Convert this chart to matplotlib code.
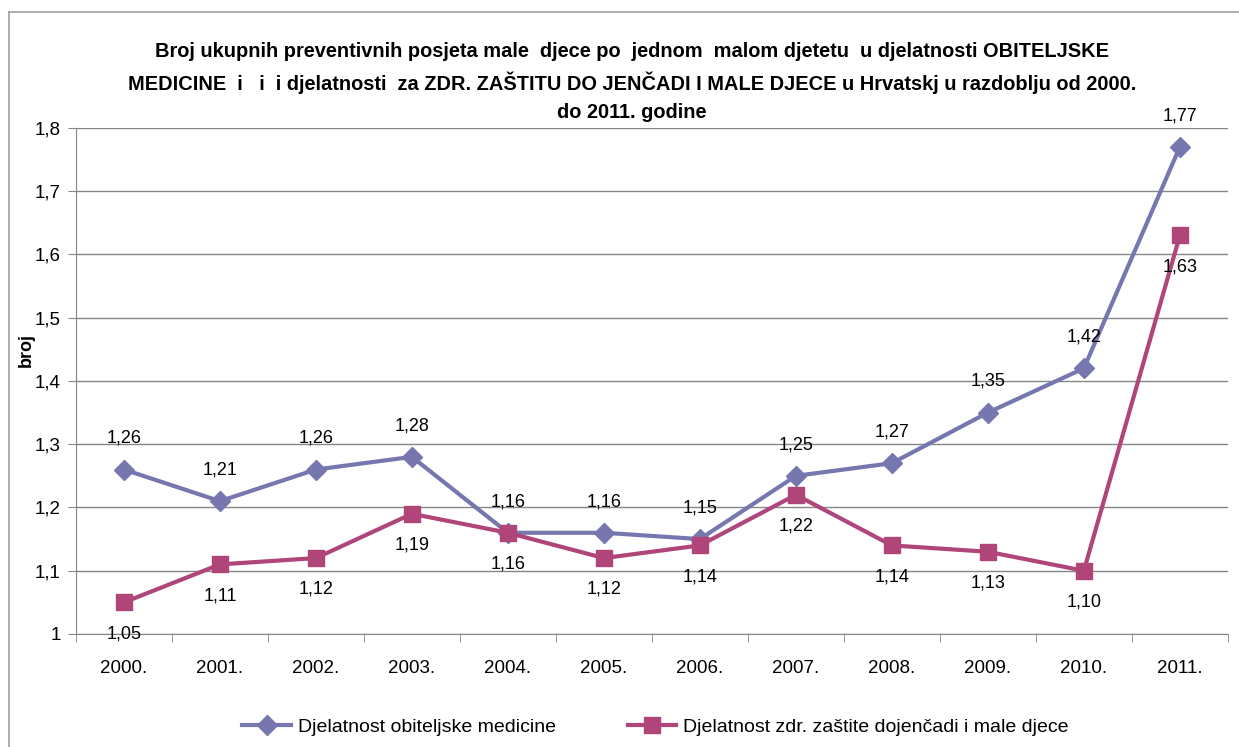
import matplotlib
matplotlib.use("Agg")
import matplotlib.pyplot as plt
from matplotlib.lines import Line2D
from matplotlib.ticker import FuncFormatter, FixedLocator

years = ["2000.", "2001.", "2002.", "2003.", "2004.", "2005.",
         "2006.", "2007.", "2008.", "2009.", "2010.", "2011."]
obiteljska = [1.26, 1.21, 1.26, 1.28, 1.16, 1.16, 1.15, 1.25, 1.27, 1.35, 1.42, 1.77]
djecja = [1.05, 1.11, 1.12, 1.19, 1.16, 1.12, 1.14, 1.22, 1.14, 1.13, 1.10, 1.63]
yticks = [1.0, 1.1, 1.2, 1.3, 1.4, 1.5, 1.6, 1.7, 1.8]

title = ("Broj ukupnih preventivnih posjeta male  djece po  jednom  malom djetetu  u djelatnosti OBITELJSKE\n"
         "MEDICINE  i   i  i djelatnosti  za ZDR. ZAŠTITU DO JENČADI I MALE DJECE u Hrvatskj u razdoblju od 2000.\n"
         "do 2011. godine")

BLUE = "#7777B0"
PINK = "#B0457A"
GRID = "#868686"

plt.rcParams["font.family"] = ["Liberation Sans", "DejaVu Sans"]

fig = plt.figure(figsize=(12.39, 7.47), dpi=100)
ax = fig.add_axes([0.0613, 0.1513, 0.9297, 0.6774])

x = list(range(len(years)))
ax.plot(x, obiteljska, color=BLUE, lw=3, marker="D", ms=10, label="Djelatnost obiteljske medicine")
ax.plot(x, djecja, color=PINK, lw=3, marker="s", ms=11.5, label="Djelatnost zdr. zaštite dojenčadi i male djece")

def fmt2(v):
    return f"{v:.2f}".replace(".", ",")

# data labels: first series above the points, second below
for xi, v in zip(x, obiteljska):
    ax.annotate(fmt2(v), (xi, v), xytext=(0, 22.5), textcoords="offset points",
                ha="center", va="center", fontsize=13)
for xi, v in zip(x, djecja):
    ax.annotate(fmt2(v), (xi, v), xytext=(0, -22.5), textcoords="offset points",
                ha="center", va="center", fontsize=13)

ax.set_xlim(-0.5, len(years) - 0.5)
ax.set_ylim(1.0, 1.8)
ax.set_yticks(yticks)
ax.yaxis.set_major_formatter(FuncFormatter(
    lambda v, p: "1" if abs(v - 1) < 1e-9 else f"{v:.1f}".replace(".", ",")))
ax.set_xticks(x)
ax.set_xticklabels(years)
ax.xaxis.set_minor_locator(FixedLocator([i - 0.5 for i in range(len(years) + 1)]))
ax.tick_params(axis="x", which="major", length=0, pad=19, labelsize=13.5)
ax.tick_params(axis="x", which="minor", length=6, color=GRID, direction="out")
ax.tick_params(axis="y", length=6, color=GRID, labelsize=13.5, pad=5)

ax.grid(axis="y", color=GRID, lw=1)
ax.set_axisbelow(True)
for s in ["top", "right"]:
    ax.spines[s].set_visible(False)
for s in ["left", "bottom"]:
    ax.spines[s].set_color(GRID)

ax.set_ylabel("broj", fontsize=13, fontweight="bold")
ax.yaxis.set_label_coords(-0.036, 0.561)

fig.text(0.51, 0.89, title, ha="center", va="center", fontsize=14.4,
         fontweight="bold", linespacing=1.6)

fig.legend(loc="center", bbox_to_anchor=(0.529, 0.027), ncol=2, frameon=False,
           fontsize=14, handlelength=2.5, columnspacing=3.7, handletextpad=0.35)

# outer chart border (left and top edges visible)
fig.add_artist(Line2D([0.0073, 0.0073], [0, 0.984], color="#A0A0A0", lw=1.2, transform=fig.transFigure))
fig.add_artist(Line2D([0.0073, 1.0], [0.984, 0.984], color="#A0A0A0", lw=1.2, transform=fig.transFigure))

fig.savefig("out.png", dpi=100)
